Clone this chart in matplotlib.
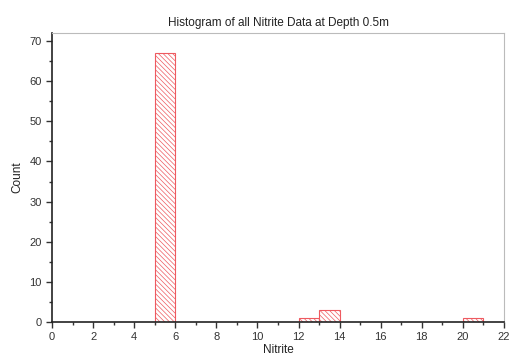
import matplotlib.pyplot as plt
import numpy as np
from matplotlib.ticker import MultipleLocator

# histogram bins (left edges) and counts
bin_left = [5, 12, 13, 20]
counts = [67, 1, 3, 1]
bin_width = 1

plt.rcParams["font.family"] = ["Liberation Sans", "DejaVu Sans"]
plt.rcParams["hatch.linewidth"] = 0.5

fig = plt.figure(figsize=(5.14, 3.6), dpi=100)
ax = fig.add_axes([52 / 514, 1 - 322 / 360, 452 / 514, 289 / 360])

ax.bar(bin_left, counts, width=bin_width, align="edge",
       facecolor="white", edgecolor="#ee5a60", linewidth=0.8,
       hatch="\\" * 7, zorder=2)

ax.set_xlim(0, 22)
ax.set_ylim(0, 72)
ax.xaxis.set_major_locator(MultipleLocator(2))
ax.xaxis.set_minor_locator(MultipleLocator(1))
ax.yaxis.set_major_locator(MultipleLocator(10))
ax.yaxis.set_minor_locator(MultipleLocator(5))
ax.tick_params(which="both", direction="out", labelsize=8, width=1, colors="#333333")
ax.tick_params(which="major", length=4)
ax.tick_params(which="minor", length=2.5)

for side in ["top", "right"]:
    ax.spines[side].set_color("#bbbbbb")
    ax.spines[side].set_linewidth(0.8)
for side in ["left", "bottom"]:
    ax.spines[side].set_color("#222222")
    ax.spines[side].set_linewidth(1.2)

ax.set_title("Histogram of all Nitrite Data at Depth 0.5m", fontsize=8.5, color="#222222", pad=5)
ax.set_xlabel("Nitrite", fontsize=8.5, color="#222222", labelpad=1)
ax.set_ylabel("Count", fontsize=8.5, color="#222222", labelpad=4)

fig.savefig("out.png", dpi=100)
